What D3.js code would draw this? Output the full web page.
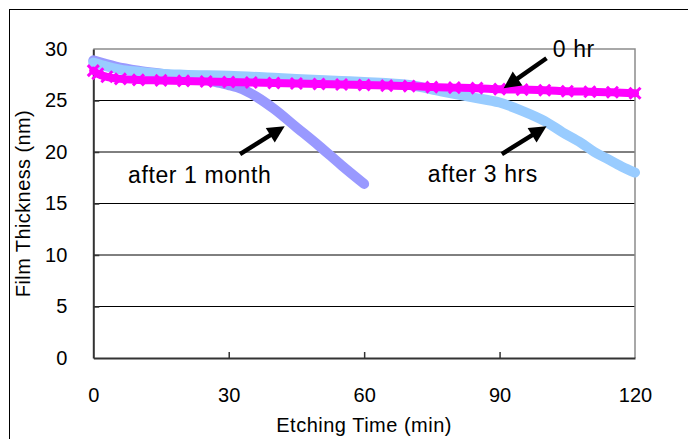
<!DOCTYPE html>
<html>
<head>
<meta charset="utf-8">
<script src="https://cdn.jsdelivr.net/npm/d3@7"></script>
<style>
  body { margin: 0; background: #fff; }
  svg { display: block; font-family: "Liberation Sans", Arial, sans-serif; }
</style>
</head>
<body>
<svg id="chart"></svg>
<script>
// etching time (min) and film thickness (nm)
const month1Time = [0, 5, 10, 15, 20, 25, 28, 30, 33, 36, 40, 45, 50, 55, 60];
const month1Thick = [28.9, 28.3, 27.9, 27.6, 27.3, 27.0, 26.7, 26.5, 26.1, 25.4, 24.2, 22.4, 20.6, 18.7, 16.9];

const hrs3Time = [0, 3, 6, 10, 15, 20, 30, 40, 50, 55, 60, 70, 77, 84, 90, 95, 100, 104, 108, 111, 114, 117, 120];
const hrs3Thick = [28.7, 28.3, 28.0, 27.8, 27.6, 27.5, 27.4, 27.2, 27.0, 26.9, 26.8, 26.5, 25.9, 25.3, 24.8, 24.0, 23.0, 21.9, 20.9, 20.0, 19.3, 18.6, 18.0];

const hr0Time = [0, 1, 3, 6, 10, 15, 20, 25, 30, 35, 40, 45, 50, 55, 60, 65, 70, 75, 80, 85, 90, 95, 100, 105, 110, 115, 120];
const hr0Thick = [27.9, 27.6, 27.3, 27.1, 27.0, 26.95, 26.9, 26.85, 26.8, 26.75, 26.7, 26.65, 26.6, 26.55, 26.5, 26.45, 26.4, 26.3, 26.25, 26.2, 26.1, 26.05, 26.0, 25.9, 25.85, 25.8, 25.7];

const xTicks = [0, 30, 60, 90, 120];
const yTicks = [0, 5, 10, 15, 20, 25, 30];

// annotations in data units: label, label position, arrow tail, arrow tip
const notes = [
  { text: "after 1 month", tx: 7.7, ty: 17.0, x1: 32.5, y1: 19.8, x2: 42.4, y2: 22.5 },
  { text: "after 3 hrs", tx: 74.1, ty: 17.1, x1: 90.5, y1: 19.8, x2: 100.4, y2: 22.5 },
  { text: "0 hr", tx: 101.8, ty: 29.2, x1: 100.4, y1: 29.1, x2: 90.9, y2: 26.2 }
];

const width = 688, height = 439;
const plotLeft = 93.3, plotRight = 635, plotTop = 49, plotBottom = 358;

const svg = d3.select("#chart").attr("width", width).attr("height", height);

// outer frame
svg.append("rect")
  .attr("x", 9.5).attr("y", 9.5)
  .attr("width", 720).attr("height", 460)
  .attr("fill", "none").attr("stroke", "#000").attr("stroke-width", 1);

const x = d3.scaleLinear().domain([0, 120]).range([plotLeft, plotRight]);
const y = d3.scaleLinear().domain([0, 30]).range([plotBottom, plotTop]);

// grid lines
svg.append("g").selectAll("line")
  .data(yTicks.filter(d => d > 0 && d < 30))
  .enter().append("line")
  .attr("x1", plotLeft).attr("x2", plotRight)
  .attr("y1", d => y(d)).attr("y2", d => y(d))
  .attr("stroke", "#000").attr("stroke-width", 1);

// plot border (top and right in grey)
svg.append("path")
  .attr("d", `M${plotLeft},${plotTop}H${plotRight}V${plotBottom}`)
  .attr("fill", "none").attr("stroke", "#8c8c8c").attr("stroke-width", 1.5);

// axes
const xAxis = svg.append("g")
  .attr("transform", `translate(0,${plotBottom})`)
  .call(d3.axisBottom(x).tickValues(xTicks).tickSizeInner(-6).tickSizeOuter(0).tickPadding(30));
const yAxis = svg.append("g")
  .attr("transform", `translate(${plotLeft},0)`)
  .call(d3.axisLeft(y).tickValues(yTicks).tickSizeInner(-6).tickSizeOuter(0).tickPadding(26));

[xAxis, yAxis].forEach(g => {
  g.select(".domain").attr("stroke", "#333").attr("stroke-width", 2);
  g.selectAll(".tick line").attr("stroke", "#333").attr("stroke-width", 1.5);
  g.selectAll("text")
    .attr("font-family", "Liberation Sans, Arial, sans-serif")
    .attr("font-size", 20).attr("fill", "#000");
});
yAxis.selectAll(".tick").filter(d => d === 0 || d === 30).select("line").remove();
xAxis.selectAll(".tick").filter(d => d === 0 || d === 120).select("line").remove();

// axis titles
svg.append("text")
  .attr("x", (plotLeft + plotRight) / 2).attr("y", 432)
  .attr("text-anchor", "middle")
  .attr("font-size", 20).attr("letter-spacing", 0.5)
  .text("Etching Time (min)");

svg.append("text")
  .attr("transform", `translate(30,${(plotTop + plotBottom) / 2}) rotate(-90)`)
  .attr("text-anchor", "middle")
  .attr("font-size", 20).attr("letter-spacing", 0.4)
  .text("Film Thickness (nm)");

// series
const series = [
  { t: month1Time, v: month1Thick, color: "#9999ff", w: 10 },
  { t: hrs3Time, v: hrs3Thick, color: "#99ccff", w: 10 },
  { t: hr0Time, v: hr0Thick, color: "#ff00ff", w: 8 }
];

const line = d3.line()
  .x(d => x(d[0])).y(d => y(d[1]))
  .curve(d3.curveMonotoneX);

series.forEach(s => {
  const pts = s.t.map((t, i) => [t, s.v[i]]);
  svg.append("path")
    .datum(pts)
    .attr("d", line)
    .attr("fill", "none")
    .attr("stroke", s.color)
    .attr("stroke-width", s.w)
    .attr("stroke-linecap", "round")
    .attr("stroke-linejoin", "round");
});

// x-markers on the 0 hr series
const m = 5.5;
svg.append("g").selectAll("path")
  .data(hr0Time.map((t, i) => [t, hr0Thick[i]]))
  .enter().append("path")
  .attr("d", d => {
    const cx = x(d[0]), cy = y(d[1]);
    return `M${cx - m},${cy - m}L${cx + m},${cy + m}M${cx - m},${cy + m}L${cx + m},${cy - m}`;
  })
  .attr("stroke", "#ff00ff").attr("stroke-width", 3);

// annotations with arrows
notes.forEach(n => {
  svg.append("text")
    .attr("x", x(n.tx)).attr("y", y(n.ty))
    .attr("font-size", 23).attr("letter-spacing", 0.6)
    .text(n.text);

  const ax1 = x(n.x1), ay1 = y(n.y1), ax2 = x(n.x2), ay2 = y(n.y2);
  const dx = ax2 - ax1, dy = ay2 - ay1, len = Math.hypot(dx, dy);
  const ux = dx / len, uy = dy / len;
  const hl = 17, hw = 8.5;
  const bx = ax2 - ux * hl, by = ay2 - uy * hl;
  svg.append("line")
    .attr("x1", ax1).attr("y1", ay1)
    .attr("x2", bx + ux * 2).attr("y2", by + uy * 2)
    .attr("stroke", "#000").attr("stroke-width", 4.5);
  svg.append("path")
    .attr("d", `M${ax2},${ay2}L${bx - uy * hw},${by + ux * hw}L${bx + uy * hw},${by - ux * hw}Z`)
    .attr("fill", "#000");
});
</script>
</body>
</html>
